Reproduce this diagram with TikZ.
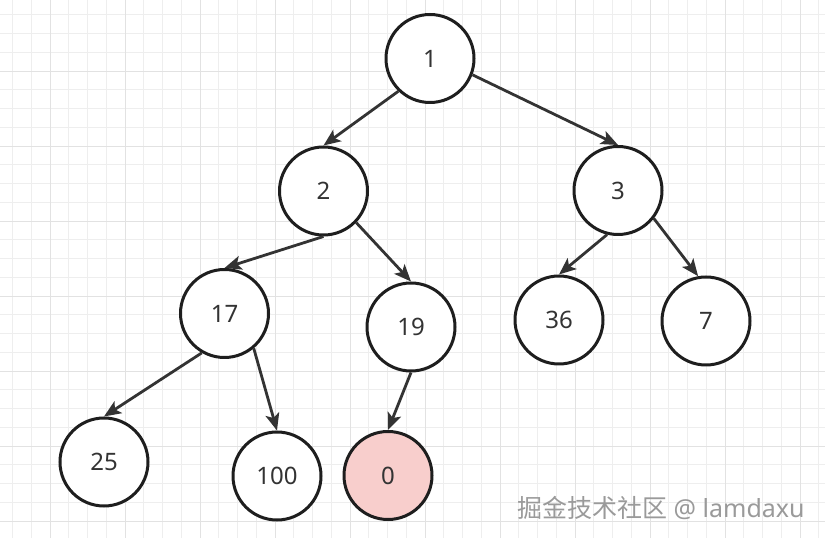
\documentclass[tikz,border=0pt]{standalone}
\usepackage{fontspec}
\setmainfont{Noto Sans}
\newfontfamily\cjkfont{Noto Sans CJK SC}
\usepackage{xcolor}
\usetikzlibrary{positioning,arrows.meta}
\definecolor{gridminor}{HTML}{EEEEEE}
\definecolor{gridmajor}{HTML}{E2E2E2}
\definecolor{nodeline}{HTML}{1E1E1E}
\definecolor{edgeline}{HTML}{333333}
\definecolor{markfill}{HTML}{F8CECC}
\definecolor{marktext}{HTML}{9A9A9A}

\begin{document}
\begin{tikzpicture}[x=1pt,y=1pt,
    heapnode/.style={circle,draw=nodeline,line width=3pt,fill=white,minimum size=88pt,inner sep=0pt,font=\fontsize{24}{28}\selectfont,text=edgeline},
    heapedge/.style={draw=edgeline,line width=2.8pt,-{Stealth[length=17pt,width=14pt,inset=4pt]}},
    node distance=1cm,on grid]
	\useasboundingbox (0,0) rectangle (825,538);
	\fill[white] (0,0) rectangle (825,538);
	% grid
	\foreach \k in {0,...,43} {\draw[gridminor,line width=0.8pt] (12.5+18.75*\k,0) -- ++(0,538);}
	\foreach \k in {0,...,27} {\draw[gridminor,line width=0.8pt] (0,523.25-18.75*\k) -- ++(825,0);}
	\foreach \k in {0,...,10} {\draw[gridmajor,line width=0.9pt] (50+75*\k,0) -- ++(0,538);}
	\foreach \k in {0,...,6} {\draw[gridmajor,line width=0.9pt] (0,467-75*\k) -- ++(825,0);}

	\node[heapnode] (n1) at (430,479.5) {1};
	\node[heapnode] (n2) [below left=132.5pt and 106.5pt of n1] {2};
	\node[heapnode] (n3) [below right=132pt and 188pt of n1] {3};
	\node[heapnode] (n17) [below left=122.5pt and 99pt of n2] {17};
	\node[heapnode] (n19) [below right=136pt and 87.5pt of n2] {19};
	\node[heapnode] (n36) [below left=129.5pt and 59pt of n3] {36};
	\node[heapnode] (n7) [below right=130.5pt and 88pt of n3] {7};
	\node[heapnode] (n25) [below left=148.5pt and 120.5pt of n17] {25};
	\node[heapnode] (n100) [below right=162.5pt and 52.5pt of n17] {100};
	\node[heapnode,fill=markfill] (n0) [below left=148.5pt and 23pt of n19] {0};

	\path (n1.226) edge[heapedge] (n2.north)
		(n1.-21) edge[heapedge] (n3.north)
		(n2.south) edge[heapedge] (n17.north)
		(n2.-44) edge[heapedge] (n19.north)
		(n3.-104) edge[heapedge] (n36.north)
		(n3.-38) edge[heapedge] (n7.100)
		(n17.-120) edge[heapedge] (n25.north)
		(n17.-50) edge[heapedge] (n100.north)
		(n19.south) edge[heapedge] (n0.north);

	\node[anchor=west,text=marktext,font=\fontsize{25}{29}\selectfont,inner sep=0pt] (mark) at (517,30) {{\cjkfont 掘金技术社区} @ lamdaxu};
\end{tikzpicture}
\end{document}
